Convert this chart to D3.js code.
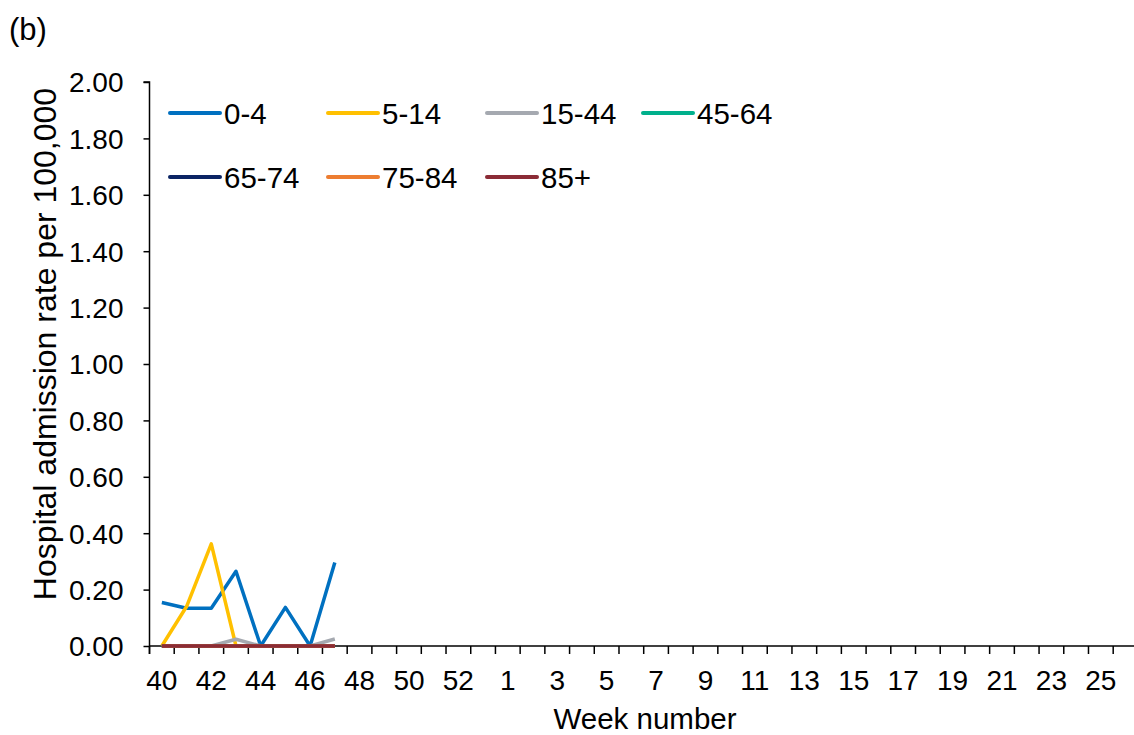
<!DOCTYPE html>
<html>
<head>
<meta charset="utf-8">
<script src="https://cdn.jsdelivr.net/npm/d3@7/dist/d3.min.js"></script>
<style>
  html, body { margin: 0; padding: 0; background: #fff; }
  svg { display: block; }
  text { font-family: "Liberation Sans", Arial, sans-serif; fill: #000; }
</style>
</head>
<body>
<svg id="chart" width="1134" height="735"></svg>
<script>
// Weeks of the season (40..53, 1..26)
const weeks = [40,41,42,43,44,45,46,47,48,49,50,51,52,53,1,2,3,4,5,6,7,8,9,10,11,12,13,14,15,16,17,18,19,20,21,22,23,24,25,26];
const tickWeeks = [40,42,44,46,48,50,52,1,3,5,7,9,11,13,15,17,19,21,23,25];
const yTicks = [0,0.2,0.4,0.6,0.8,1.0,1.2,1.4,1.6,1.8,2.0];

const seriesNames = ["0-4","5-14","15-44","45-64","65-74","75-84","85+"];
const seriesColors = ["#0070C0","#FFC000","#A5A9B0","#00B08C","#0B2464","#ED7D31","#8B2B36"];

// Values for weeks 40..47 (rest not yet reported)
const v0_4   = [0.154,0.134,0.134,0.265,0.0,0.137,0.0,0.296];
const v5_14  = [0.0,0.14,0.362,0.0,0.0,0.0,0.0,0.0];
const v15_44 = [0.0,0.0,0.0,0.024,0.0,0.0,0.0,0.025];
const v45_64 = [0,0,0,0,0,0,0,0];
const v65_74 = [0,0,0,0,0,0,0,0];
const v75_84 = [0,0,0,0,0,0,0,0];
const v85p   = [0,0,0,0,0,0,0,0];
const seriesValues = [v0_4, v5_14, v15_44, v45_64, v65_74, v75_84, v85p];

const svg = d3.select("#chart");
const x0 = 149.5, yTop = 82, yBot = 646;
const catW = 24.71;
const x = d3.scaleBand().domain(weeks.map((w,i)=>i)).range([x0, x0 + catW*weeks.length]).paddingInner(0).paddingOuter(0);
const y = d3.scaleLinear().domain([0,2]).range([yBot, yTop]);

// Y axis
const yAxis = d3.axisLeft(y).tickValues(yTicks).tickFormat(d3.format(".2f")).tickSize(6).tickPadding(20);
const gy = svg.append("g").attr("transform", `translate(${x0},0)`).call(yAxis);
gy.select(".domain").attr("stroke","#000").attr("stroke-width",1.5).attr("d", `M-6,${yTop}H0V${yBot+8}`);
gy.selectAll(".tick line").attr("stroke","#000").attr("stroke-width",1.5);
gy.selectAll(".tick text").style("font-size","28px").attr("dy","0.35em");

// X axis with ticks at category boundaries
const xAxisG = svg.append("g").attr("transform", `translate(0,${yBot})`);
xAxisG.append("path").attr("d", `M${x0},0H1134`).attr("stroke","#000").attr("stroke-width",1.5).attr("fill","none");
const boundaries = d3.range(weeks.length+1).map(i => x0 + i*catW);
xAxisG.selectAll("line.tk").data(boundaries).join("line")
  .attr("class","tk").attr("x1",d=>d).attr("x2",d=>d).attr("y1",0).attr("y2",8)
  .attr("stroke","#000").attr("stroke-width",1.5);
xAxisG.selectAll("text.lbl").data(tickWeeks).join("text")
  .attr("class","lbl")
  .attr("x", d => x(weeks.indexOf(d)) + x.bandwidth()/2)
  .attr("y", 44)
  .attr("text-anchor","middle")
  .style("font-size","28px")
  .text(d => d);

// Axis titles
svg.append("text").attr("x", 645).attr("y", 729).attr("text-anchor","middle").style("font-size","29.5px").text("Week number");
svg.append("text").attr("transform","translate(45,344) rotate(-90)").attr("dy","0.35em").attr("text-anchor","middle").style("font-size","32px").text("Hospital admission rate per 100,000");
svg.append("text").attr("x", 9).attr("y", 40).style("font-size","31px").text("(b)");

// Lines
const line = d3.line().x((d,i)=>x(i)+x.bandwidth()/2).y(d=>y(d));
seriesValues.forEach((vals, k) => {
  svg.append("path").datum(vals).attr("d", line)
    .attr("fill","none").attr("stroke", seriesColors[k]).attr("stroke-width",3.5)
    .attr("stroke-linejoin","round");
});

// Legend
const legendPos = [[170,113],[328,113],[487,113],[643,113],[170,177],[328,177],[487,177]];
const lg = svg.append("g").attr("class","legend");
seriesNames.forEach((n,k) => {
  const [lx,ly] = legendPos[k];
  lg.append("line").attr("x1",lx).attr("x2",lx+50).attr("y1",ly).attr("y2",ly)
    .attr("stroke",seriesColors[k]).attr("stroke-width",4).attr("stroke-linecap","round");
  lg.append("text").attr("x",lx+54).attr("y",ly).attr("dy","0.36em").style("font-size","29.5px").text(n);
});
</script>
</body>
</html>
